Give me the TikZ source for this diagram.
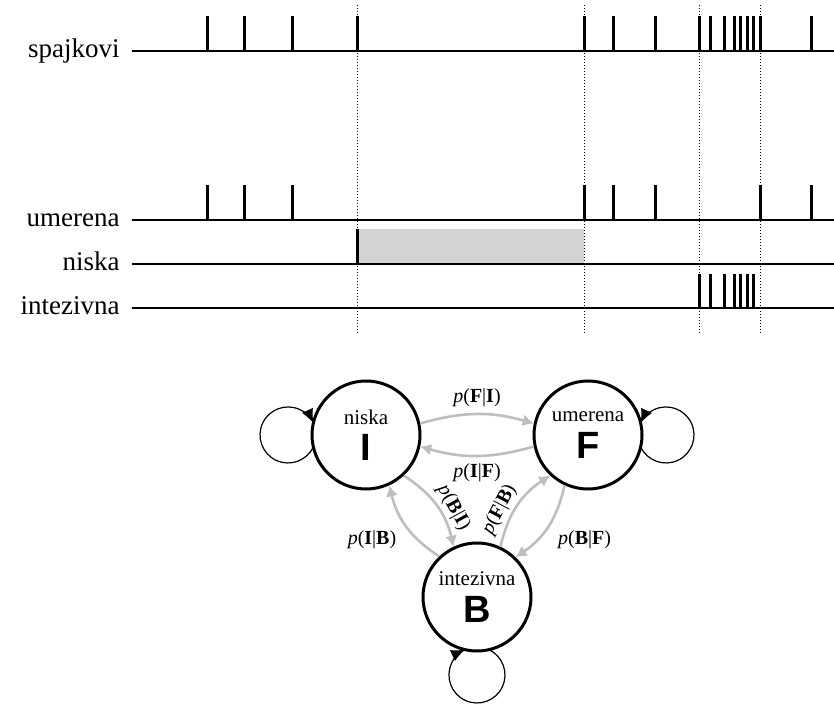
\documentclass[tikz,border=0pt]{standalone}
\usepackage{fontspec}
\setmainfont{Liberation Serif}
\newfontfamily\statefont{Liberation Sans}
\usetikzlibrary{arrows.meta}
\definecolor{transgray}{RGB}{188,190,192}
\definecolor{boxgray}{RGB}{209,211,212}
\tikzset{
  rowlabel/.style={anchor=mid east, inner sep=0pt, font=\fontsize{13.5}{16}\selectfont},
  axisline/.style={line width=0.8pt},
  spike/.style={line width=1.5pt},
  marker/.style={densely dotted, line width=0.5pt},
  state/.style={circle, draw, line width=1.5pt, minimum size=54pt, inner sep=0pt, align=center},
  trans/.style={transgray, line width=1.3pt, -{Latex[length=5.5pt,width=6pt]}},
  selfloop/.style={line width=0.6pt, -{Latex[length=7pt,width=6pt]}},
  plabel/.style={black, font=\fontsize{10}{12}\selectfont},
}
\newcommand{\statetext}[2]{{\fontsize{10.5}{12}\selectfont #1}\\[4pt]{\statefont\bfseries\fontsize{19}{20}\selectfont #2}}
\newcommand{\prob}[2]{\textit{p}(\textbf{#1}|\textbf{#2})}

\begin{document}
\begin{tikzpicture}[x=0.5pt, y=-0.5pt]
  \useasboundingbox (0,0) rectangle (834,704);

  % spike train and the three rate classes
  \node[rowlabel] (spk) at (120,53) {spajkovi};
  \node[rowlabel] (mid) at (120,222) {umerena};
  \node[rowlabel] (low) at (120,266) {niska};
  \node[rowlabel] (high) at (120,310) {intezivna};

  \fill[boxgray] (357,229) rectangle (584,264);

  \foreach \t in {207,244,292,357,584,613,655,699,710,724.7,734.3,740.3,747.3,753.3,760.7,811}
    \draw[spike] (\t,51) -- (\t,16);
  \foreach \t in {207,244,292,584,613,655,760.7,811}
    \draw[spike] (\t,220) -- (\t,185);
  \draw[spike] (357,264) -- (357,229);
  \foreach \t in {699,710,724.7,734.3,740.3,747.3,753.3}
    \draw[spike] (\t,308) -- (\t,274);

  \foreach \y in {51,220,264,308}
    \draw[axisline] (132,\y) -- (834,\y);

  \foreach \t in {357,584,699,760.7}
    \draw[marker] (\t,5) -- (\t,335);

  % state diagram
  \node[state] (I) at (366,435) {\statetext{niska}{I}};
  \node[state] (F) at (588,435) {\statetext{umerena}{F}};
  \node[state] (B) at (477,597) {\statetext{intezivna}{B}};

  \draw[trans] (I.12) to[bend left=16] node[plabel, auto] {\prob{F}{I}} (F.168);
  \draw[trans] (F.192) to[bend left=16] node[plabel, auto] {\prob{I}{F}} (I.-12);
  \draw[trans] (I.-47) to[bend left=22] node[plabel, auto, sloped, pos=0.62, inner sep=1.5pt] {\prob{B}{I}} (B.115);
  \draw[trans] (B.133) to[bend left=22] node[plabel, auto, pos=0.55] {\prob{I}{B}} (I.-65);
  \draw[trans] (B.65) to[bend left=22] node[plabel, auto, sloped, pos=0.36, inner sep=1.5pt] {\prob{F}{B}} (F.227);
  \draw[trans] (F.245) to[bend left=22] node[plabel, auto, pos=0.45] {\prob{B}{F}} (B.46);

  \draw[selfloop] (I.center) ++(-52.6,11.8) arc[start angle=25, end angle=335, radius=28];
  \draw[selfloop] (F.center) ++(52.6,11.8) arc[start angle=155, end angle=-155, radius=28];
  \draw[selfloop] (B.center) ++(11.8,52.6) arc[start angle=-65, end angle=245, radius=28];
\end{tikzpicture}
\end{document}
